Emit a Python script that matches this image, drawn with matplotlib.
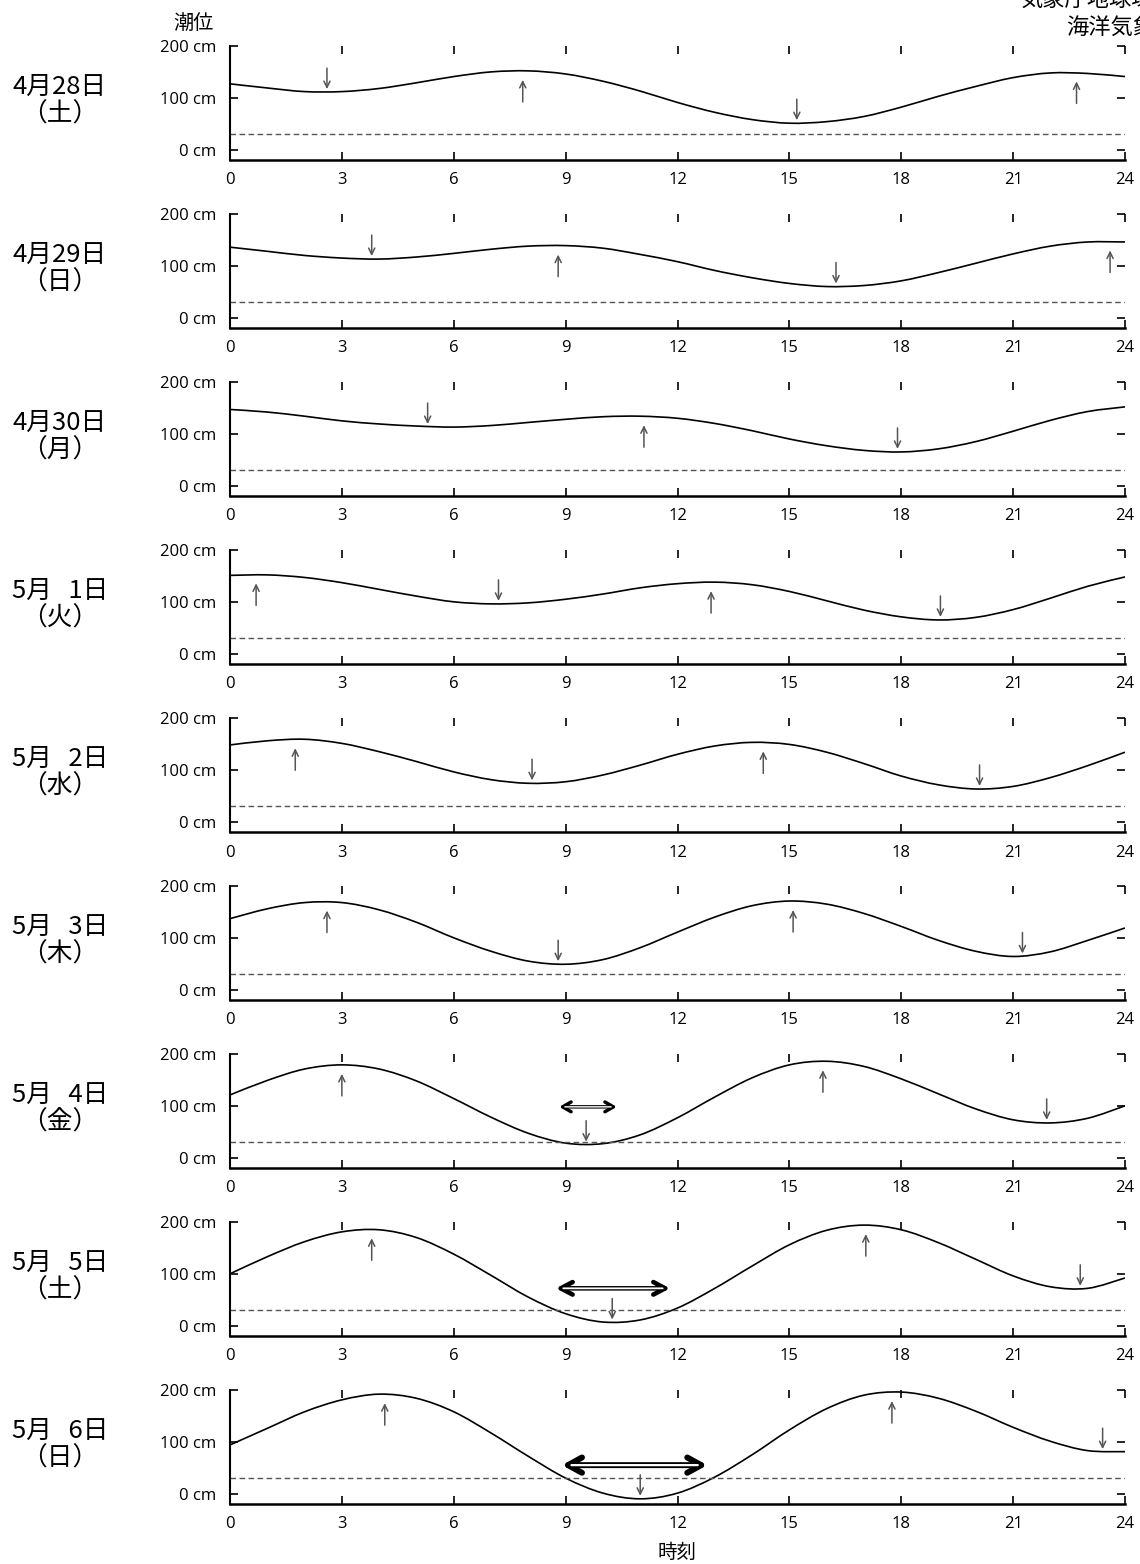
import numpy as np
import matplotlib
matplotlib.use('Agg')
import matplotlib.pyplot as plt
from matplotlib.path import Path
from matplotlib.patches import PathPatch
from matplotlib.transforms import offset_copy

plt.rcParams['font.family'] = ['Open Sans', 'Noto Sans CJK JP', 'DejaVu Sans']

# 日付・曜日
dates = ['4月28日', '4月29日', '4月30日', '5月\u20071日', '5月\u20072日',
         '5月\u20073日', '5月\u20074日', '5月\u20075日', '5月\u20076日']
weekdays = ['（土）', '（日）', '（月）', '（火）', '（水）', '（木）', '（金）', '（土）', '（日）']

hours = list(range(25))

# 毎時潮位 (cm)
tide_0428 = [127, 119, 112, 112, 118, 129, 141, 150, 152, 146, 132, 113, 91, 72, 58, 51, 54, 64, 82, 103, 122, 139, 148, 147, 141]
tide_0429 = [136, 128, 120, 115, 113, 117, 124, 132, 138, 139, 134, 122, 108, 91, 77, 66, 60, 62, 71, 87, 105, 123, 138, 146, 146]
tide_0430 = [147, 142, 134, 125, 119, 115, 113, 116, 122, 128, 133, 134, 130, 120, 106, 90, 77, 68, 65, 71, 85, 105, 126, 143, 152]
tide_0501 = [151, 152, 147, 137, 124, 111, 100, 96, 98, 105, 115, 127, 135, 138, 133, 120, 102, 84, 71, 65, 70, 85, 107, 130, 148]
tide_0502 = [148, 156, 159, 151, 135, 116, 96, 81, 74, 77, 90, 109, 130, 146, 153, 149, 134, 112, 88, 71, 63, 68, 85, 108, 134]
tide_0503 = [137, 156, 168, 168, 154, 130, 100, 74, 55, 49, 58, 81, 111, 140, 162, 171, 165, 147, 122, 95, 74, 64, 73, 95, 119]
tide_0504 = [121, 149, 171, 179, 171, 148, 114, 78, 47, 28, 27, 44, 77, 117, 154, 179, 186, 176, 152, 123, 94, 73, 67, 76, 100]
tide_0505 = [100, 133, 162, 181, 185, 170, 138, 97, 55, 23, 7, 11, 34, 72, 115, 156, 184, 194, 185, 160, 128, 96, 75, 72, 92]
tide_0506 = [94, 126, 158, 181, 192, 184, 158, 117, 72, 30, 1, -10, 1, 32, 75, 123, 164, 190, 196, 184, 159, 128, 101, 83, 81]
tides = [tide_0428, tide_0429, tide_0430, tide_0501, tide_0502,
         tide_0503, tide_0504, tide_0505, tide_0506]

# 満潮(H)・干潮(L): (時刻, 潮位, 種別)
extremes = [
    [(2.6, 111, 'L'), (7.85, 152, 'H'), (15.2, 51, 'L'), (22.7, 149, 'H')],
    [(3.8, 113, 'L'), (8.8, 139, 'H'), (16.25, 60, 'L'), (23.6, 147, 'H')],
    [(5.3, 113, 'L'), (11.1, 134, 'H'), (17.9, 65, 'L')],
    [(0.7, 153, 'H'), (7.2, 96, 'L'), (12.9, 138, 'H'), (19.05, 65, 'L')],
    [(1.75, 159, 'H'), (8.1, 74, 'L'), (14.3, 153, 'H'), (20.1, 63, 'L')],
    [(2.6, 170, 'H'), (8.8, 49, 'L'), (15.1, 171, 'H'), (21.25, 64, 'L')],
    [(3.0, 179, 'H'), (9.55, 25, 'L'), (15.9, 186, 'H'), (21.9, 67, 'L')],
    [(3.8, 186, 'H'), (10.25, 6, 'L'), (17.05, 194, 'H'), (22.8, 71, 'L')],
    [(4.15, 192, 'H'), (11.0, -10, 'L'), (17.75, 196, 'H'), (23.4, 80, 'L')],
]

ref_level = 30  # 破線

# 潮干狩り目安の時間帯: パネル番号 -> (開始, 終了, 表示高さ)
windows = {6: (8.83, 10.37, 98), 7: (8.74, 11.8, 72), 8: (8.9, 12.8, 55)}
win_style = {6: (2.5, 1.0, 0.6, 0.35), 7: (3.3, 1.3, 0.85, 0.45), 8: (4.3, 1.6, 1.0, 0.55)}


def smooth_path(x, y):
    # なめらかな線で点をつなぐ (Catmull-Rom -> ベジェ)
    p = np.column_stack([x, y]).astype(float)
    ext = np.vstack([p[0], p, p[-1]])
    verts = [p[0]]
    codes = [Path.MOVETO]
    for k in range(len(p) - 1):
        p0, p1, p2, p3 = ext[k], ext[k + 1], ext[k + 2], ext[k + 3]
        verts += [p1 + (p2 - p0) / 6, p2 - (p3 - p1) / 6, p2]
        codes += [Path.CURVE4] * 3
    return Path(verts, codes)


W, H = 1140, 1564
fig = plt.figure(figsize=(W / 100, H / 100), dpi=100)

for i in range(9):
    top = 46 + 168 * i
    ax = fig.add_axes([230 / W, 1 - (top + 114) / H, 895 / W, 114 / H])
    ax.add_patch(PathPatch(smooth_path(hours, tides[i]), fill=False,
                           edgecolor='k', lw=1.2))
    ax.axhline(ref_level, color='#555555', lw=1.0, ls=(0, (4, 2.5)))
    ax.set_xlim(0, 24)
    ax.set_ylim(-20, 200)
    ax.set_xticks(range(0, 25, 3))
    ax.set_yticks([0, 100, 200])
    ax.set_yticklabels(['0 cm', '100 cm', '200 cm'])
    ax.spines['top'].set_visible(False)
    ax.spines['right'].set_visible(False)
    ax.spines['left'].set_linewidth(1.5)
    ax.spines['bottom'].set_linewidth(1.8)
    ax.tick_params(direction='in', length=6, width=1.2, top=True, right=True,
                   labelsize=12)
    ax.tick_params(axis='y', pad=10)
    ax.tick_params(axis='x', pad=9)

    for t, h, kind in extremes[i]:
        if kind == 'H':
            tip = offset_copy(ax.transData, fig=fig, y=-9, units='dots')
            tail = offset_copy(ax.transData, fig=fig, y=-31, units='dots')
        else:
            tip = offset_copy(ax.transData, fig=fig, y=3, units='dots')
            tail = offset_copy(ax.transData, fig=fig, y=24, units='dots')
        ax.annotate('', xy=(t, h), xycoords=tip, xytext=(t, h), textcoords=tail,
                    arrowprops=dict(arrowstyle='->,head_length=0.45,head_width=0.22',
                                    color='#555555', lw=1.1, shrinkA=0, shrinkB=0))

    if i in windows:
        t1, t2, y = windows[i]
        lo, li, hl, hw = win_style[i]
        ax.annotate('', xy=(t2, y), xytext=(t1, y),
                    arrowprops=dict(arrowstyle=f'<->,head_length={hl},head_width={hw}',
                                    color='k', lw=lo, shrinkA=0, shrinkB=0))
        ax.annotate('', xy=(t2, y), xytext=(t1, y),
                    arrowprops=dict(arrowstyle='-', color='white', lw=li,
                                    shrinkA=lo * 1.6, shrinkB=lo * 1.6))

    fig.text(60 / W, 1 - (top + 55) / H, dates[i] + '\n' + weekdays[i],
             ha='center', va='center', fontsize=18.5, linespacing=1.1,
             family=['Noto Sans CJK JP', 'DejaVu Sans'])

fig.text(193 / W, 1 - 23 / H, '潮位', ha='center', va='center', fontsize=14.5,
         family=['Noto Sans CJK JP'])
fig.text(677 / W, 1 - 1552 / H, '時刻', ha='center', va='center', fontsize=14,
         family=['Noto Sans CJK JP'])
fig.text(1020 / W, 1 + 1 / H, '気象庁地球環境・海洋部', ha='left', va='center',
         fontsize=16, family=['Noto Sans CJK JP'])
fig.text(1066 / W, 1 - 27 / H, '海洋気象情報室', ha='left', va='center',
         fontsize=16, family=['Noto Sans CJK JP'])

fig.savefig('out.png', dpi=100)
